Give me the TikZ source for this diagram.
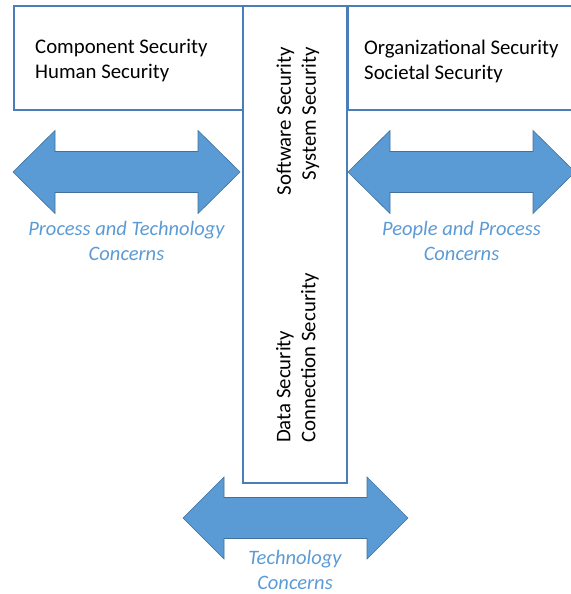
\documentclass[tikz,border=0pt]{standalone}
\usepackage{fontspec}
\setmainfont{Carlito}
\definecolor{boxline}{HTML}{4A7EBB}
\definecolor{arrfill}{HTML}{5B9BD5}
\definecolor{arrline}{HTML}{41719C}
\definecolor{lblcol}{HTML}{5B9BD5}
\tikzset{
  box/.style={draw=boxline, line width=1.5pt, fill=white},
  dblarr/.style={fill=arrfill, draw=arrline, line width=0.6pt, line join=miter},
  txt/.style={inner sep=0pt, font=\fontsize{20.8}{25}\selectfont},
  lbl/.style={inner sep=0pt, align=center, text=lblcol, font=\fontsize{20.5}{24.5}\selectfont\itshape},
}
\begin{document}
\begin{tikzpicture}[x=1pt,y=-1pt]
\useasboundingbox (0,0) rectangle (570,594);
% boxes
\draw[box] (14,6) rectangle (243,110);
\draw[box] (348,6) rectangle (576,110);
\draw[box] (243,6) rectangle (347,483);
% arrows
\draw[dblarr] (13,172) -- (55,130.5) -- (55,151.5) -- (198,151.5) -- (198,130.5) -- (240,172)
  -- (198,213.5) -- (198,192.5) -- (55,192.5) -- (55,213.5) -- cycle;
\draw[dblarr] (348,172) -- (390,130.5) -- (390,151.5) -- (533,151.5) -- (533,130.5) -- (575,172)
  -- (533,213.5) -- (533,192.5) -- (390,192.5) -- (390,213.5) -- cycle;
\draw[dblarr] (183,518) -- (224,477) -- (224,497.5) -- (367,497.5) -- (367,477) -- (408,518)
  -- (367,559) -- (367,538.5) -- (224,538.5) -- (224,559) -- cycle;
% texts
\node[txt, align=left, anchor=west] (comp) at (35,61) {Component Security\\Human Security};
\node[txt, align=left, anchor=west] (org) at (364,61) {Organizational Security\\Societal Security};
\node[txt, align=right, rotate=90, anchor=east] (soft) at (298,47) {Software Security\\System Security};
\node[txt, align=left, rotate=90, anchor=west] (data) at (297.5,443) {Data Security\\Connection Security};
% labels
\node[lbl] (ptc) at (126.5,241) {Process and Technology\\Concerns};
\node[lbl] (ppc) at (461.5,241) {People and Process\\Concerns};
\node[lbl] (tc) at (295,570) {Technology\\Concerns};
\end{tikzpicture}
\end{document}
